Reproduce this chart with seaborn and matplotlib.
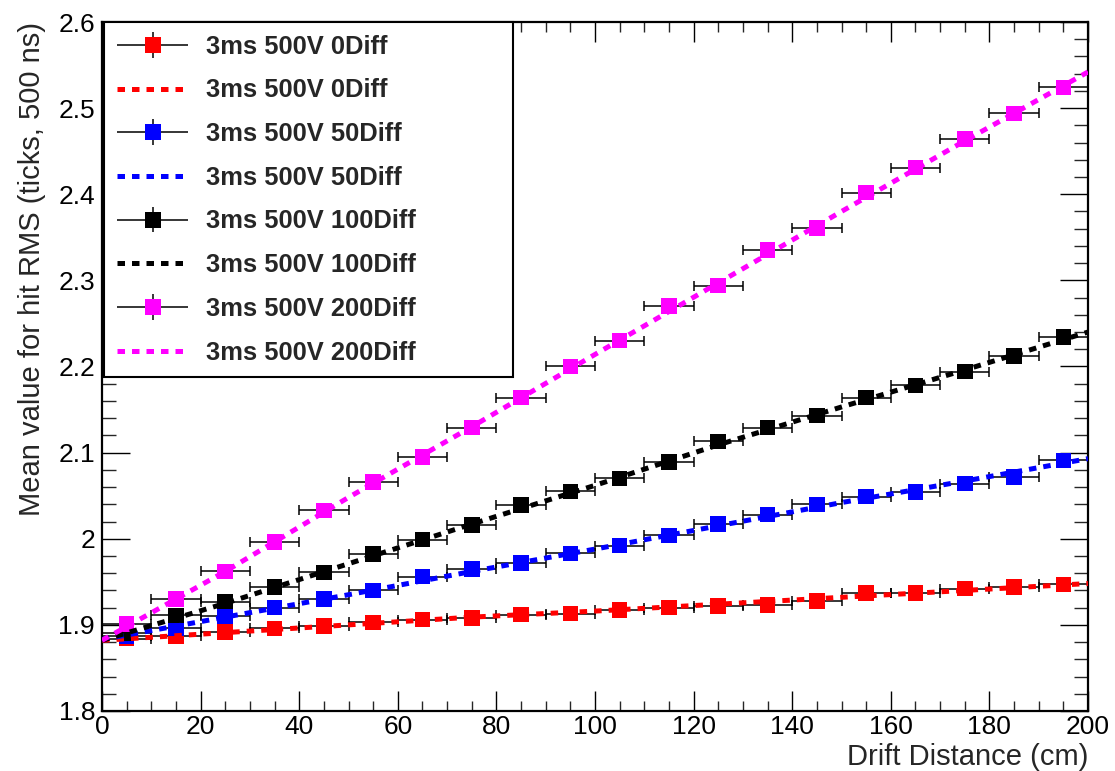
import numpy as np
import pandas as pd
import matplotlib
matplotlib.use("Agg")
import matplotlib.pyplot as plt
import seaborn as sns
from matplotlib.legend_handler import HandlerErrorbar
from matplotlib.ticker import MultipleLocator

# ---- data ----
drift_cm = [5, 15, 25, 35, 45, 55, 65, 75, 85, 95,
            105, 115, 125, 135, 145, 155, 165, 175, 185, 195]
x_halfwidth = 5

rms_0diff = [1.884, 1.887, 1.892, 1.896, 1.899, 1.903, 1.906, 1.908, 1.912, 1.913,
             1.917, 1.920, 1.922, 1.923, 1.928, 1.937, 1.937, 1.942, 1.944, 1.947]
rms_50diff = [1.887, 1.896, 1.910, 1.920, 1.930, 1.940, 1.956, 1.965, 1.972, 1.983,
              1.992, 2.004, 2.017, 2.028, 2.040, 2.049, 2.054, 2.064, 2.072, 2.091]
rms_100diff = [1.890, 1.911, 1.927, 1.944, 1.961, 1.982, 1.999, 2.016, 2.039, 2.055,
               2.070, 2.089, 2.113, 2.129, 2.143, 2.164, 2.178, 2.194, 2.212, 2.234]
rms_200diff = [1.901, 1.930, 1.962, 1.996, 2.033, 2.066, 2.095, 2.129, 2.164, 2.200,
               2.230, 2.270, 2.294, 2.335, 2.361, 2.402, 2.431, 2.464, 2.494, 2.524]

fit_x = [0, 25, 50, 75, 100, 125, 150, 175, 200]
fit_0diff = [1.882, 1.891, 1.900, 1.909, 1.916, 1.924, 1.932, 1.940, 1.948]
fit_50diff = [1.883, 1.909, 1.935, 1.962, 1.988, 2.015, 2.042, 2.067, 2.093]
fit_100diff = [1.882, 1.925, 1.971, 2.017, 2.062, 2.109, 2.153, 2.196, 2.240]
fit_200diff = [1.882, 1.962, 2.048, 2.130, 2.214, 2.297, 2.380, 2.462, 2.542]

labels = ["3ms 500V 0Diff", "3ms 500V 50Diff", "3ms 500V 100Diff", "3ms 500V 200Diff"]
colors = ["#ff0000", "#0000ff", "#000000", "#ff00ff"]
series = [rms_0diff, rms_50diff, rms_100diff, rms_200diff]
fits = [fit_0diff, fit_50diff, fit_100diff, fit_200diff]

x_ticks_major = 20
x_ticks_minor = 5
y_ticks_major = 0.1
y_ticks_minor = 0.02

# ---- style ----
sns.set_theme(style="ticks")
plt.rcParams['font.family'] = ['Liberation Sans', 'DejaVu Sans']

fig = plt.figure(figsize=(11.15, 7.71), dpi=100)
ax = fig.add_axes([102 / 1115, 1 - 711 / 771, 986 / 1115, 689 / 771])

handles = []
leg_labels = []
for lab, col, ys, fy in zip(labels, colors, series, fits):
    df = pd.DataFrame({"x": drift_cm, "y": ys})
    ax.errorbar(df["x"], df["y"], xerr=x_halfwidth, fmt="none", ecolor="black",
                elinewidth=1.1, capsize=3.5, capthick=1.1, zorder=2)
    sns.scatterplot(data=df, x="x", y="y", marker="s", s=125, color=col,
                    edgecolor="none", linewidth=0, ax=ax, zorder=3, legend=False)
    fdf = pd.DataFrame({"x": fit_x, "y": fy})
    sns.lineplot(data=fdf, x="x", y="y", color=col, linewidth=3.6, ax=ax,
                 legend=False, zorder=4, estimator=None, sort=False)
    line = ax.lines[-1]
    line.set_linestyle((0, (1.5, 1.4)))
    line.set_dash_capstyle("butt")

    proxy = ax.errorbar([np.nan], [np.nan], xerr=[1], yerr=[1], fmt="s",
                        color=col, ecolor="black", markersize=11, elinewidth=1.1,
                        capsize=0, markeredgewidth=0)
    handles.append(proxy)
    leg_labels.append(lab)
    handles.append(line)
    leg_labels.append(lab)

ax.set_xlim(0, 200)
ax.set_ylim(1.8, 2.6)
ax.xaxis.set_major_locator(MultipleLocator(x_ticks_major))
ax.xaxis.set_minor_locator(MultipleLocator(x_ticks_minor))
ax.yaxis.set_major_locator(MultipleLocator(y_ticks_major))
ax.yaxis.set_minor_locator(MultipleLocator(y_ticks_minor))
ax.yaxis.set_major_formatter(matplotlib.ticker.FuncFormatter(lambda v, p: f"{v:g}"))

ax.tick_params(axis="x", which="major", direction="in", length=14.5, width=1.0,
               top=True, bottom=True, labelsize=19, pad=3, colors="black")
ax.tick_params(axis="x", which="minor", direction="in", length=7.5, width=1.0,
               top=True, bottom=True)
ax.tick_params(axis="y", which="major", direction="in", length=20, width=1.0,
               left=True, right=True, labelsize=19, pad=5, colors="black")
ax.tick_params(axis="y", which="minor", direction="in", length=10, width=1.0,
               left=True, right=True)
for sp in ax.spines.values():
    sp.set_visible(True)
    sp.set_linewidth(1.6)
    sp.set_color("black")

ax.set_xlabel("Drift Distance (cm)", fontsize=21, loc="right")
ax.set_ylabel("Mean value for hit RMS (ticks, 500 ns)", fontsize=21, loc="top")
ax.xaxis.set_label_coords(1.0, -0.046)
ax.yaxis.set_label_coords(-0.057, 1.0)

leg = ax.legend(handles, leg_labels, loc="upper left",
                bbox_to_anchor=(0.002, 0.0, 0.415, 1.0), mode="expand",
                borderaxespad=0, prop={"weight": "bold", "size": 18.4},
                frameon=True, fancybox=False, edgecolor="black", framealpha=1,
                handlelength=2.8, handletextpad=0.7, labelspacing=0.77,
                borderpad=0.5, numpoints=1,
                handler_map={type(handles[0]): HandlerErrorbar(xerr_size=1.4, yerr_size=0.5)})
leg.get_frame().set_linewidth(1.5)
leg.set_zorder(10)

fig.savefig("out.png", dpi=100)
